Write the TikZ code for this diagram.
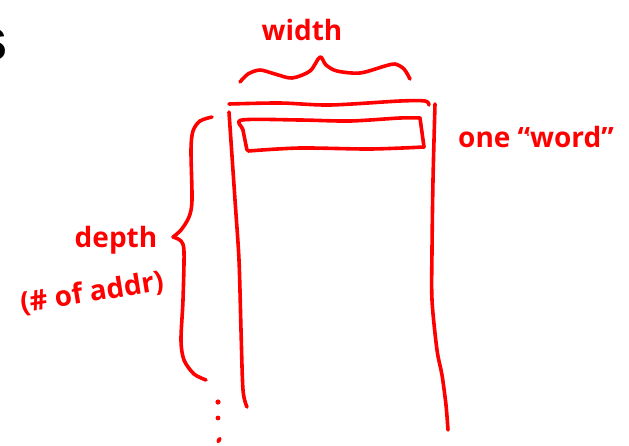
\documentclass[tikz,border=0pt]{standalone}
\usepackage{fontspec}
\setmainfont{Open Sans}
\newfontfamily\headfont{Liberation Sans}
\begin{document}
\begin{tikzpicture}[x=1pt,y=-1pt,
  ink/.style={draw=red, line width=3.6pt, line cap=round, line join=round},
  hand/.style={text=red, inner sep=0pt, font=\bfseries\fontsize{28}{28}\selectfont},
  dot/.style={fill=red, draw=none}]
\useasboundingbox (0,0) rectangle (629,445);
% cut-off heading letter
\node[anchor=base east, inner sep=0pt, font=\headfont\bfseries\fontsize{60}{60}\selectfont] (head) at (8,60) {s};
% outer memory block
\draw[ink] plot[smooth] coordinates {(229,104) (280,103) (330,105) (400,101) (425,101) (429,105)};
\draw[ink] plot[smooth] coordinates {(229,112) (235,200) (239,260) (241,330) (243,390) (247,407)};
\draw[ink] plot[smooth] coordinates {(435,104) (433,180) (432,250) (432,300) (437,350) (442,375) (446,405) (448,430)};
% one word row
\draw[ink] plot[smooth] coordinates {(247,150) (243,130) (242,120) (300,120) (350,121) (400,118) (420,118)};
\draw[ink] plot[smooth] coordinates {(248,151) (300,148) (370,149) (424,147)};
\draw[ink] (420,118) -- (424,147);
% width brace
\draw[ink] plot[smooth] coordinates {(240,82) (248,74) (260,70) (275,74) (292,78) (310,71) (320,57) (326,65) (337,71) (360,73) (385,66) (395,64) (404,69) (410,79)};
% depth brace
\draw[ink] plot[smooth] coordinates {(212,117) (200,121) (193,131) (191,150) (192,200) (189,217) (181,230) (173,237)};
\draw[ink] plot[smooth] coordinates {(173,237) (181,241) (184,252) (183,300) (181,340) (184,360) (194,374) (206,380)};
% continuation dots
\fill[dot] (218,402) circle (2.6);
\fill[dot] (218,418) circle (2.4);
\fill[dot, rotate around={60:(219,440)}] (219,440) ellipse (3.2 and 2.2);
\fill[dot] (528,135) circle (1.1);
% labels
\node[hand, anchor=base] (width) at (302,40) {width};
\node[hand, anchor=base] (depth) at (116,247) {depth};
\node[hand, rotate=9, font=\bfseries\fontsize{28}{28}\selectfont] (addr) at (92,293) {(\# of addr)};
\node[hand, anchor=base west] (word) at (458,147) {one “word”};
\end{tikzpicture}
\end{document}
